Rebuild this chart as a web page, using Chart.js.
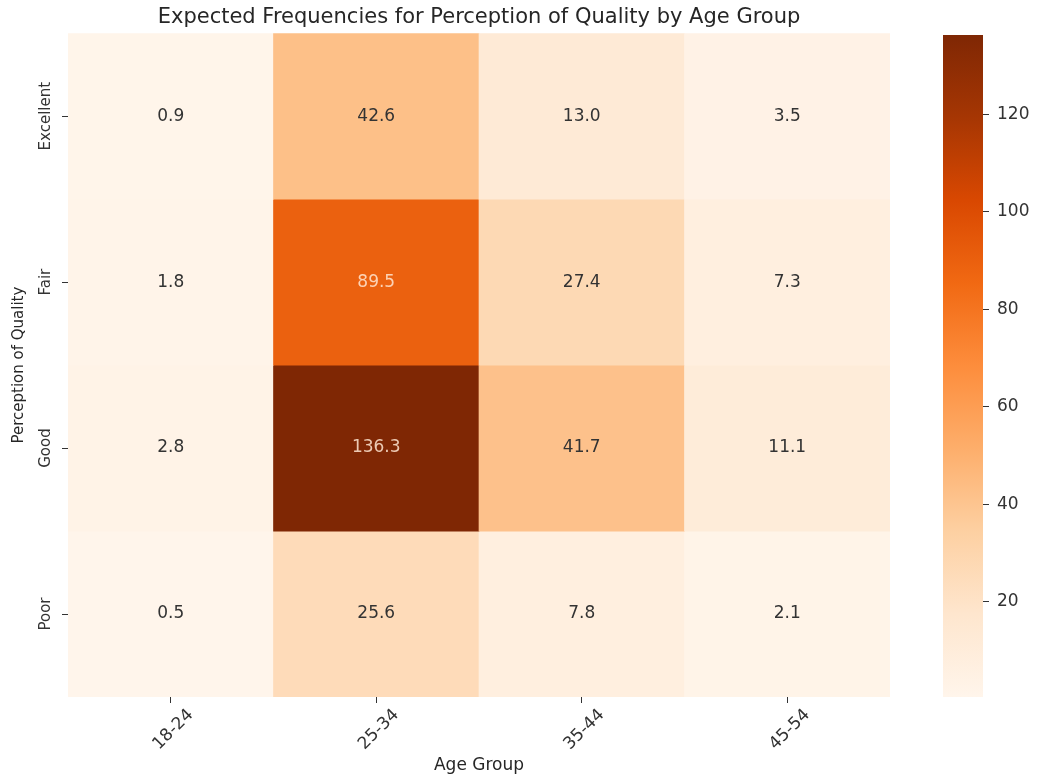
<!DOCTYPE html>
<html>
<head>
<meta charset="utf-8">
<script src="https://cdn.jsdelivr.net/npm/chart.js@4.4.1/dist/chart.umd.min.js"></script>
<style>
  html, body { margin: 0; padding: 0; background: #ffffff; }
  #wrap { position: relative; width: 1041px; height: 780px; }
  #mainBox { position: absolute; left: 0; top: 0; width: 920px; height: 780px; }
  #barBox { position: absolute; left: 900px; top: 0; width: 141px; height: 780px; }
</style>
</head>
<body>
<div id="wrap">
  <div id="mainBox"><canvas id="heat" width="920" height="780"></canvas></div>
  <div id="barBox"><canvas id="cbar" width="141" height="780"></canvas></div>
</div>
<script>
// Expected frequencies: rows = perception of quality, columns = age group
const ageGroups = ['18-24', '25-34', '35-44', '45-54'];
const qualityLevels = ['Excellent', 'Fair', 'Good', 'Poor'];
const excellentValues = [0.9, 42.6, 13.0, 3.5];
const fairValues = [1.8, 89.5, 27.4, 7.3];
const goodValues = [2.8, 136.3, 41.7, 11.1];
const poorValues = [0.5, 25.6, 7.8, 2.1];
const colorbarTicks = [20, 40, 60, 80, 100, 120];

const rowValues = [excellentValues, fairValues, goodValues, poorValues];
const allValues = rowValues.flat();
const vmin = Math.min(...allValues);
const vmax = Math.max(...allValues);

const FONT = '"DejaVu Sans", "Liberation Sans", sans-serif';
const TEXT_DARK = '#333333';

// Sequential "Oranges" colour ramp
const orangeStops = ['#fff5eb', '#fee6ce', '#fdd0a2', '#fdae6b', '#fd8d3c',
                     '#f16913', '#d94801', '#a63603', '#7f2704'];
function hexToRgb(h) {
  return [parseInt(h.slice(1, 3), 16), parseInt(h.slice(3, 5), 16), parseInt(h.slice(5, 7), 16)];
}
function orangeAt(t) {
  t = Math.max(0, Math.min(1, t));
  const pos = t * (orangeStops.length - 1);
  const i = Math.min(Math.floor(pos), orangeStops.length - 2);
  const f = pos - i;
  const a = hexToRgb(orangeStops[i]);
  const b = hexToRgb(orangeStops[i + 1]);
  const c = a.map((v, k) => Math.round(v + (b[k] - v) * f));
  return 'rgb(' + c.join(',') + ')';
}
function colorFor(v) {
  return orangeAt((v - vmin) / (vmax - vmin));
}
function luminance(v) {
  const m = colorFor(v).match(/\d+/g).map(Number).map(x => {
    x /= 255;
    return x <= 0.03928 ? x / 12.92 : Math.pow((x + 0.055) / 1.055, 2.4);
  });
  return 0.2126 * m[0] + 0.7152 * m[1] + 0.0722 * m[2];
}

// One floating-bar dataset per row; row 0 sits at the top of the 0..4 band scale
const nRows = qualityLevels.length;
const datasets = qualityLevels.map((name, r) => {
  const lo = nRows - 1 - r;
  return {
    label: name,
    values: rowValues[r],
    data: ageGroups.map(() => [lo, lo + 1]),
    backgroundColor: rowValues[r].map(colorFor),
    borderWidth: 0,
    grouped: false,
    barPercentage: 1.0,
    categoryPercentage: 1.0
  };
});

// Y tick labels are turned upright; measure the longest so they sit centred near the ticks
const yTickFont = { family: FONT, size: 15 };
const measureCtx = document.createElement('canvas').getContext('2d');
measureCtx.font = '15px ' + FONT;
const widestY = Math.max(...qualityLevels.map(s => measureCtx.measureText(s).width));
const yTickLen = 6;
const yLabelCentre = 46;
const yAxisWidth = 68;
const yTickPad = yAxisWidth - yTickLen - yLabelCentre - widestY / 2;

// Write each cell's value in its centre
const cellLabels = {
  id: 'cellLabels',
  afterDatasetsDraw(chart) {
    const ctx = chart.ctx;
    ctx.save();
    ctx.font = '17px ' + FONT;
    ctx.textAlign = 'center';
    ctx.textBaseline = 'middle';
    chart.data.datasets.forEach((ds, di) => {
      const meta = chart.getDatasetMeta(di);
      meta.data.forEach((el, i) => {
        const v = ds.values[i];
        const cx = el.x;
        const cy = (el.y + el.base) / 2;
        ctx.fillStyle = luminance(v) < 0.408 ? 'rgba(255,230,210,0.85)' : TEXT_DARK;
        ctx.fillText(v.toFixed(1), cx, cy);
      });
    });
    ctx.restore();
  }
};

new Chart(document.getElementById('heat'), {
  type: 'bar',
  data: { labels: ageGroups, datasets: datasets },
  plugins: [cellLabels],
  options: {
    responsive: false,
    devicePixelRatio: 1,
    animation: false,
    layout: { padding: { top: 0, right: 30, bottom: 0, left: 0 } },
    plugins: {
      legend: { display: false },
      tooltip: { enabled: false },
      title: {
        display: true,
        text: 'Expected Frequencies for Perception of Quality by Age Group',
        fullSize: false,
        color: '#262626',
        font: { family: FONT, size: 21, weight: 'normal' },
        padding: { top: 5, bottom: 3 }
      }
    },
    scales: {
      x: {
        type: 'category',
        offset: true,
        border: { display: false },
        grid: { display: true, drawOnChartArea: false, drawTicks: true, tickLength: 6, offset: false, color: TEXT_DARK },
        ticks: {
          color: TEXT_DARK,
          font: { family: FONT, size: 17 },
          minRotation: 45,
          maxRotation: 45,
          autoSkip: false,
          labelOffset: 20,
          padding: 2
        },
        title: {
          display: true,
          text: 'Age Group',
          color: '#262626',
          font: { family: FONT, size: 17 },
          padding: { top: 0, bottom: 4 }
        },
        afterFit(scale) { scale.height = 83; }
      },
      y: {
        type: 'linear',
        min: 0,
        max: nRows,
        border: { display: false },
        grid: { display: true, drawOnChartArea: false, drawTicks: true, tickLength: yTickLen, color: TEXT_DARK },
        afterBuildTicks(scale) {
          scale.ticks = qualityLevels.map((_, r) => ({ value: nRows - 1 - r + 0.5 }));
        },
        ticks: {
          color: TEXT_DARK,
          font: yTickFont,
          minRotation: 90,
          maxRotation: 90,
          autoSkip: false,
          crossAlign: 'center',
          padding: yTickPad,
          callback(value) {
            return qualityLevels[nRows - 1 - Math.floor(value)];
          }
        },
        title: {
          display: true,
          text: 'Perception of Quality',
          color: '#262626',
          font: { family: FONT, size: 15 },
          padding: { top: 10, bottom: 0 }
        },
        afterFit(scale) { scale.width = yAxisWidth; }
      }
    }
  }
});

// Colour bar: one floating bar spanning the data range, filled with the ramp
new Chart(document.getElementById('cbar'), {
  type: 'bar',
  data: {
    labels: ['scale'],
    datasets: [{
      data: [[vmin, vmax]],
      borderWidth: 0,
      barPercentage: 1.0,
      categoryPercentage: 1.0,
      backgroundColor(context) {
        const chart = context.chart;
        const area = chart.chartArea;
        if (!area) return orangeStops[0];
        const ys = chart.scales.y;
        const y0 = ys.getPixelForValue(vmin);
        const y1 = ys.getPixelForValue(vmax);
        const g = chart.ctx.createLinearGradient(0, y0, 0, y1);
        orangeStops.forEach((c, i) => g.addColorStop(i / (orangeStops.length - 1), c));
        return g;
      }
    }]
  },
  options: {
    responsive: false,
    devicePixelRatio: 1,
    animation: false,
    layout: { padding: { top: 35, right: 0, bottom: 83, left: 43 } },
    plugins: { legend: { display: false }, tooltip: { enabled: false } },
    scales: {
      x: { type: 'category', display: false, offset: true },
      y: {
        type: 'linear',
        position: 'right',
        min: vmin,
        max: vmax,
        border: { display: false },
        grid: { display: true, drawOnChartArea: false, drawTicks: true, tickLength: 6, color: TEXT_DARK },
        afterBuildTicks(scale) {
          scale.ticks = colorbarTicks.map(v => ({ value: v }));
        },
        ticks: {
          color: TEXT_DARK,
          font: { family: FONT, size: 17 },
          padding: 8,
          autoSkip: false
        },
        afterFit(scale) { scale.width = 58; }
      }
    }
  }
});
</script>
</body>
</html>
